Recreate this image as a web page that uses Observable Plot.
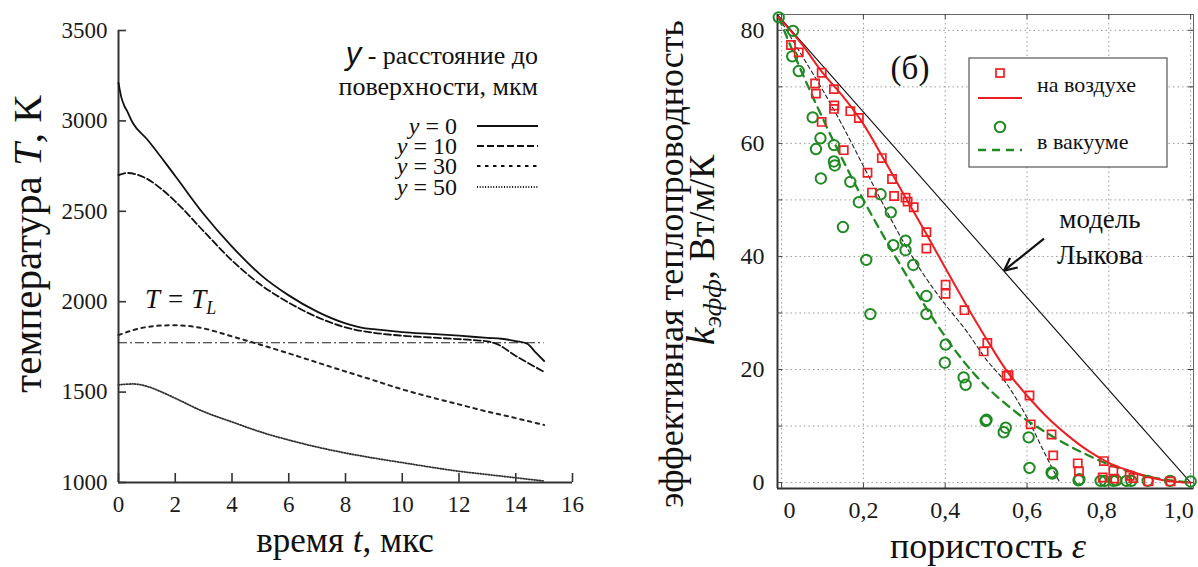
<!DOCTYPE html>
<html><head><meta charset="utf-8">
<script src="https://cdn.jsdelivr.net/npm/d3@7"></script>
<script src="https://cdn.jsdelivr.net/npm/@observablehq/plot@0.6"></script>
<style>
html,body{margin:0;padding:0;background:#fff;}
#wrap{display:flex;width:1198px;height:567px;overflow:hidden;}
#wrap svg{flex:none;overflow:visible;}
</style></head><body><div id="wrap"></div>
<script>
// ---------- Panel (a): temperature vs time ----------
const xTicksL = [0, 2, 4, 6, 8, 10, 12, 14, 16];
const yTicksL = [1000, 1500, 2000, 2500, 3000, 3500];
const tDomain = [0, 16];
const TDomain = [1000, 3500];

const y0_t = [0, 0.1, 0.2, 0.3, 0.5, 1, 2, 3, 4, 5, 6, 7, 8, 8.6, 9, 10, 11, 12, 13, 13.5, 14, 14.4, 14.7, 15];
const y0_T = [3210, 3130, 3085, 3055, 2990, 2900, 2695, 2485, 2305, 2150, 2035, 1945, 1880, 1855, 1848, 1832, 1822, 1812, 1800, 1795, 1782, 1768, 1720, 1672];

const y10_t = [0, 0.3, 0.6, 1, 1.5, 2, 3, 4, 5, 6, 7, 8, 9, 10, 11, 12, 12.5, 13, 13.3, 14, 15];
const y10_T = [2700, 2712, 2705, 2680, 2625, 2555, 2390, 2228, 2095, 1995, 1915, 1858, 1828, 1812, 1802, 1793, 1788, 1780, 1768, 1700, 1612];

const y30_t = [0, 0.5, 1, 1.5, 2, 2.5, 3, 4, 5, 6, 7, 8, 9, 10, 11, 12, 13, 14, 15];
const y30_T = [1815, 1842, 1860, 1868, 1870, 1865, 1852, 1808, 1762, 1714, 1664, 1614, 1565, 1515, 1472, 1432, 1392, 1356, 1318];

const y50_t = [0, 0.5, 1, 1.5, 2, 3, 4, 5, 6, 7, 8, 9, 10, 11, 12, 13, 14, 15];
const y50_T = [1540, 1545, 1532, 1502, 1466, 1392, 1335, 1280, 1235, 1196, 1163, 1135, 1110, 1085, 1062, 1044, 1026, 1008];

const TL = 1773;
const TLrange = [0, 15];
const seriesNames = ["y = 0", "y = 10", "y = 30", "y = 50"];

// ---------- Panel (б): conductivity vs porosity ----------
const epsDomain = [-0.01, 1.007];
const kDomain = [-1.05, 82.8];
const epsTicks = [0, 0.2, 0.4, 0.6, 0.8, 1.0];
const kTicks = [0, 20, 40, 60, 80];
const kGrid = [0, 10, 20, 30, 40, 50, 60, 70, 80];

const airEps = [0.023,0.042,0.082,0.084,0.098,0.098,0.128,0.129,0.128,0.152,0.168,0.189,0.21,0.221,0.245,0.27,0.275,0.303,0.308,0.323,0.354,0.354,0.401,0.401,0.447,0.503,0.494,0.55,0.555,0.606,0.609,0.66,0.664,0.724,0.727,0.788,0.785,0.811,0.813,0.851,0.86,0.897,0.951];
const airK   = [77.4,76.1,70.6,68.8,72.5,63.8,69.6,66.7,66.1,58.8,65.7,64.5,54.8,51.3,57.4,53.7,50.7,50.4,49.7,48.7,44.3,41.4,35.0,33.4,30.5,24.7,23.2,18.9,19.0,15.4,10.3,8.5,4.8,3.4,2.0,3.8,0.9,2.1,0.7,1.2,0.8,0.2,0.2];

const vacEps = [-0.007,0.028,0.026,0.042,0.076,0.084,0.095,0.096,0.128,0.128,0.13,0.15,0.168,0.189,0.207,0.217,0.242,0.267,0.273,0.303,0.303,0.322,0.354,0.354,0.401,0.399,0.445,0.45,0.499,0.501,0.548,0.543,0.604,0.606,0.66,0.662,0.726,0.728,0.78,0.79,0.811,0.818,0.843,0.855,0.895,0.95,1.0];
const vacK   = [82.3,79.9,75.4,72.8,64.6,59.0,60.9,53.8,59.7,56.8,56.1,45.2,53.2,49.6,39.4,29.8,51.0,47.8,42.0,42.8,41.1,38.5,33.0,29.8,24.4,21.2,18.6,17.3,10.9,11.1,9.7,8.9,8.0,2.6,1.8,1.6,0.4,0.6,0.3,0.3,0.3,0.4,0.3,0.3,0.3,0.3,0.2];

const airLineEps = [-0.007,0.05,0.1,0.15,0.2,0.25,0.3,0.35,0.4,0.45,0.5,0.55,0.6,0.65,0.7,0.75,0.8,0.85,0.9,0.95,1.0];
const airLineK   = [82.3,77.5,72.5,68.3,63.4,57.2,50.8,44.5,38.0,31.6,25.5,19.8,15.4,11.5,8.3,5.6,3.5,2.1,0.95,0.25,0];

const vacLineEps = [-0.007,0.05,0.1,0.15,0.2,0.25,0.3,0.35,0.4,0.45,0.5,0.55,0.6,0.65,0.7,0.75,0.8,0.85,0.9,0.95,1.0];
const vacLineK   = [82.3,72.5,64.5,57.0,50.0,43.5,37.3,31.3,25.8,21.0,17.0,13.8,11.0,8.7,6.6,4.8,3.2,2.0,1.0,0.4,0];

const modelEps = [-0.007,0.05,0.1,0.15,0.2,0.25,0.3,0.35,0.4,0.45,0.5,0.55,0.6,0.65,0.68];
const modelK   = [82.3,75.5,69.5,63.0,56.0,49.0,42.3,36.5,31.5,27.0,21.8,17.5,11.5,4.2,0];

const lykovEps = [-0.008, 1.0];
const lykovK   = [82.6, 0];

const legendLabels = ["на воздухе", "в вакууме"];

// ---------- helpers ----------
const zip = (xs, ys) => xs.map((x, i) => ({x, y: ys[i]}));
const RED = "#ee1f23", GREEN = "#1f8a22";
const SERIF = '"Liberation Serif", "Times New Roman", serif';
const SANS = '"Liberation Sans", Arial, sans-serif';

// ---------- build panel (a) ----------
const LW = 600, LH = 567, LmL = 118, LmR = 28, LmT = 30, LmB = 85;
const LiW = LW - LmL - LmR, LiH = LH - LmT - LmB;
const left = Plot.plot({
  width: LW, height: LH, marginLeft: LmL, marginRight: LmR, marginTop: LmT, marginBottom: LmB,
  style: "font-family: 'Liberation Serif', serif; font-size: 23px; color: #1a1a1a; background: white; overflow: visible;",
  x: {domain: tDomain},
  y: {domain: TDomain},
  marks: [
    Plot.axisX({ticks: xTicksL, tickFormat: d3.format("d"), tickSize: 0, tickPadding: 13, label: null, fontSize: 23}),
    Plot.axisY({ticks: yTicksL, tickFormat: d3.format("d"), tickSize: 0, tickPadding: 11, label: null, fontSize: 23}),
    Plot.tickX(xTicksL, {x: d => d, insetTop: LiH - 9, stroke: "#333", strokeWidth: 1.6}),
    Plot.tickY(yTicksL, {y: d => d, insetRight: LiW - 8, stroke: "#333", strokeWidth: 1.6}),
    Plot.ruleX([tDomain[0]], {stroke: "#333", strokeWidth: 2}),
    Plot.ruleY([TDomain[0]], {stroke: "#333", strokeWidth: 2}),
    Plot.ruleY([TL], {x1: TLrange[0], x2: TLrange[1], stroke: "#222", strokeWidth: 1.2, strokeDasharray: "9,3,2,3"}),
    Plot.line(zip(y50_t, y50_T), {x: "x", y: "y", stroke: "#333", strokeWidth: 1.8, strokeDasharray: "1,1.7", curve: "monotone-x"}),
    Plot.line(zip(y30_t, y30_T), {x: "x", y: "y", stroke: "#222", strokeWidth: 2, strokeDasharray: "3.5,4.5", curve: "monotone-x"}),
    Plot.line(zip(y10_t, y10_T), {x: "x", y: "y", stroke: "#111", strokeWidth: 1.8, strokeDasharray: "7,3", curve: "monotone-x"}),
    Plot.line(zip(y0_t, y0_T), {x: "x", y: "y", stroke: "#111", strokeWidth: 1.8, curve: "monotone-x"})
  ]
});

// ---------- build panel (б) ----------
const RW = 598, RH = 567, RmL = 177, RmR = 5, RmT = 14, RmB = 79;
const RiW = RW - RmL - RmR, RiH = RH - RmT - RmB;
const fmtEps = d => d === 0 ? "0" : d.toFixed(1).replace(".", ",");
const epsLabelGroups = [[[0], 8], [[0.2, 0.4, 0.6], 0], [[0.8], -7], [[1.0], -12]];
const right = Plot.plot({
  width: RW, height: RH, marginLeft: RmL, marginRight: RmR, marginTop: RmT, marginBottom: RmB,
  style: "font-family: 'Liberation Serif', serif; font-size: 24px; color: #1a1a1a; background: white; overflow: visible;",
  x: {domain: epsDomain},
  y: {domain: kDomain},
  marks: [
    Plot.gridX({ticks: epsTicks, stroke: "#9a9a9a", strokeOpacity: 1, strokeDasharray: "1.5,3"}),
    Plot.gridY({ticks: kGrid, stroke: "#9a9a9a", strokeOpacity: 1, strokeDasharray: "1.5,3"}),
    Plot.frame({stroke: "#666", strokeWidth: 1}),
    Plot.ruleX([epsDomain[0]], {stroke: "#333", strokeWidth: 2}),
    Plot.ruleY([kDomain[0]], {stroke: "#333", strokeWidth: 2}),
    Plot.tickX(epsTicks, {x: d => d, insetTop: RiH - 5, stroke: "#444"}),
    Plot.tickX(epsTicks, {x: d => d, insetBottom: RiH - 5, stroke: "#444"}),
    Plot.tickY(kGrid, {y: d => d, insetRight: RiW - 5, stroke: "#444"}),
    Plot.tickY(kGrid, {y: d => d, insetLeft: RiW - 5, stroke: "#444"}),
    ...epsLabelGroups.map(([ticks, dx]) => Plot.axisX({ticks, tickFormat: fmtEps, tickSize: 0, tickPadding: 12, dx, label: null, fontSize: 24})),
    Plot.axisY({ticks: kTicks, tickFormat: d3.format("d"), tickSize: 0, tickPadding: 13, label: null, fontSize: 24}),
    Plot.line(zip(lykovEps, lykovK), {x: "x", y: "y", stroke: "#111", strokeWidth: 1.1}),
    Plot.line(zip(modelEps, modelK), {x: "x", y: "y", stroke: "#222", strokeWidth: 1.1, strokeDasharray: "4,3", curve: "monotone-x"}),
    Plot.line(zip(vacLineEps, vacLineK), {x: "x", y: "y", stroke: GREEN, strokeWidth: 2.3, strokeDasharray: "8,6", curve: "monotone-x"}),
    Plot.line(zip(airLineEps, airLineK), {x: "x", y: "y", stroke: RED, strokeWidth: 2, curve: "monotone-x"}),
    Plot.dot(zip(vacEps, vacK), {x: "x", y: "y", r: 5.2, stroke: GREEN, strokeWidth: 2, fill: "none"}),
    Plot.dot(zip(airEps, airK), {x: "x", y: "y", symbol: "square", r: 4.6, stroke: RED, strokeWidth: 1.7, fill: "none"})
  ]
});

const wrap = document.getElementById("wrap");
wrap.append(left, right);

// text helper: real SVG text with inline font style
function txt(sel, x, y, anchor, size, parts, extra) {
  const t = sel.append("text").attr("x", x).attr("y", y)
    .style("font-family", SERIF).style("font-size", size + "px").style("text-anchor", anchor).attr("fill", "#111");
  if (extra) extra(t);
  parts.forEach(p => {
    if (typeof p === "string") { t.append("tspan").text(p); return; }
    const s = t.append("tspan").text(p.t);
    if (p.i) s.style("font-style", "italic");
    if (p.f) s.style("font-family", p.f);
    if (p.s) s.style("font-size", p.s + "px");
    if (p.dy) s.attr("dy", p.dy);
  });
  return t;
}

// ---------- annotations panel (a) ----------
const sL = d3.select(left);
const sxL = left.scale("x"), syL = left.scale("y");
txt(sL, 0, 0, "middle", 41, ["температура ", {t: "T", i: 1}, ", К"],
  t => t.attr("transform", `translate(41,${(LmT + LH - LmB) / 2 - 12}) rotate(-90)`));
txt(sL, LmL + LiW / 2, 552, "middle", 35, ["время ", {t: "t", i: 1}, ", мкс"]);
txt(sL, sxL.apply(0.95), syL.apply(1962), "start", 27, [{t: "T = T", i: 1}, {t: "L", i: 1, s: 18, dy: 6}]);
txt(sL, 538, 64, "end", 26, [{t: "y", i: 1, f: SANS, s: 31}, " - расстояние до"]);
txt(sL, 538, 95, "end", 26, ["поверхности, мкм"]);
const legDash = [null, "7,3", "3.5,4.5", "1,1.7"];
const legY = [126, 146, 166, 187];
seriesNames.forEach((name, i) => {
  const [a, b] = name.split(" = ");
  txt(sL, 457, legY[i] + 8, "end", 24, [{t: a, i: 1}, " = " + b]);
  sL.append("line").attr("x1", 477).attr("x2", 538).attr("y1", legY[i]).attr("y2", legY[i])
    .attr("stroke", "#111").attr("stroke-width", 2).attr("stroke-dasharray", legDash[i]);
});

// ---------- annotations panel (б) ----------
const sR = d3.select(right);
const sxR = right.scale("x"), syR = right.scale("y");
txt(sR, 0, 0, "middle", 36, ["эффективная теплопроводность"], t => t.attr("transform", "translate(83,264) rotate(-90)"));
txt(sR, 0, 0, "middle", 36, [{t: "k", i: 1, s: 40}, {t: "эфф", i: 1, s: 26, dy: 7}, {t: ", Вт/м/К", dy: -7}],
  t => t.attr("transform", "translate(114,250) rotate(-90)"));
txt(sR, 388, 558, "middle", 36, ["пористость ", {t: "ε", i: 1}]);
txt(sR, 310, 79, "middle", 33, ["(б)"]);
// legend box
sR.append("rect").attr("x", 369).attr("y", 58).attr("width", 198).attr("height", 109).attr("fill", "white").attr("stroke", "#555").attr("stroke-width", 1.2);
sR.append("rect").attr("x", 396).attr("y", 69).attr("width", 8).attr("height", 8).attr("fill", "none").attr("stroke", RED).attr("stroke-width", 1.7);
sR.append("line").attr("x1", 378).attr("x2", 422).attr("y1", 98).attr("y2", 98).attr("stroke", RED).attr("stroke-width", 2);
sR.append("circle").attr("cx", 400).attr("cy", 127).attr("r", 5.2).attr("fill", "none").attr("stroke", GREEN).attr("stroke-width", 2);
sR.append("line").attr("x1", 378).attr("x2", 422).attr("y1", 150).attr("y2", 150).attr("stroke", GREEN).attr("stroke-width", 2.3).attr("stroke-dasharray", "8,6");
txt(sR, 437, 92, "start", 22, [legendLabels[0]]);
txt(sR, 437, 149, "start", 22, [legendLabels[1]]);
// model label + arrow
txt(sR, 500, 228, "middle", 27, ["модель"]);
txt(sR, 500, 264, "middle", 27, ["Лыкова"]);
const tipX = sxR.apply(0.545), tipY = syR.apply(37.4);
const tailX = tipX + 40, tailY = tipY - 32;
const ang = Math.atan2(tipY - tailY, tipX - tailX);
sR.append("line").attr("x1", tailX).attr("y1", tailY).attr("x2", tipX).attr("y2", tipY).attr("stroke", "#111").attr("stroke-width", 2.2);
[0.45, -0.45].forEach(da => {
  sR.append("line").attr("x1", tipX).attr("y1", tipY)
    .attr("x2", tipX - 14 * Math.cos(ang + da)).attr("y2", tipY - 14 * Math.sin(ang + da))
    .attr("stroke", "#111").attr("stroke-width", 2.2);
});
</script></body></html>
